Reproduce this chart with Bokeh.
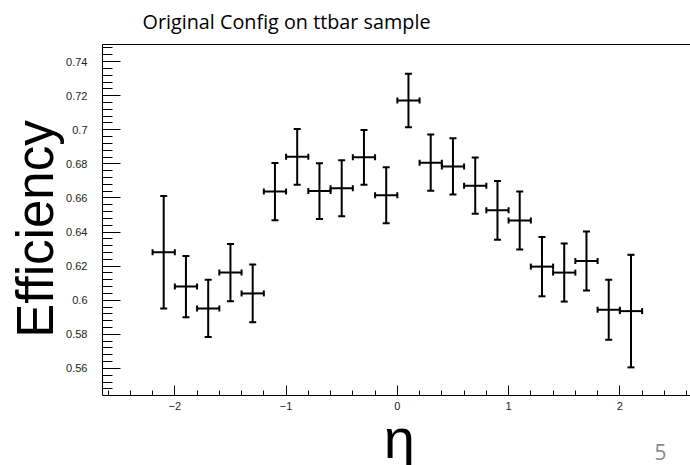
import math
from bokeh.plotting import figure
from bokeh.models import (ColumnDataSource, Whisker, TeeHead, Range1d, SingleIntervalTicker,
                          CustomJSTickFormatter, Label, LinearAxis)
from bokeh.embed import file_html
from bokeh.resources import INLINE

# ---------------- data ----------------
title_text = "Original Config on ttbar sample"
y_title = "Efficiency"
x_title = "η"
page_number = "5"

eta = [-2.1, -1.9, -1.7, -1.5, -1.3, -1.1, -0.9, -0.7, -0.5, -0.3, -0.1,
       0.1, 0.3, 0.5, 0.7, 0.9, 1.1, 1.3, 1.5, 1.7, 1.9, 2.1]
eta_half_width = [0.1] * 22
efficiency = [0.6282, 0.6080, 0.5952, 0.6162, 0.6040, 0.6637, 0.6841, 0.6640,
              0.6657, 0.6838, 0.6616, 0.7172, 0.6807, 0.6785, 0.6672, 0.6527,
              0.6467, 0.6197, 0.6162, 0.6230, 0.5944, 0.5936]
efficiency_err = [0.0330, 0.0180, 0.0168, 0.0168, 0.0169, 0.0168, 0.0164, 0.0164,
                  0.0164, 0.0161, 0.0164, 0.0157, 0.0165, 0.0165, 0.0165, 0.0173,
                  0.0170, 0.0174, 0.0170, 0.0173, 0.0176, 0.0330]

# axis extents (data) of the drawn ROOT frame
x_lo, x_hi = -2.65, 2.635
y_lo, y_hi = 0.5441, 0.75

src = ColumnDataSource(dict(
    eta=eta,
    eff=efficiency,
    lo=[e - d for e, d in zip(efficiency, efficiency_err)],
    hi=[e + d for e, d in zip(efficiency, efficiency_err)],
    xlo=[x - w for x, w in zip(eta, eta_half_width)],
    xhi=[x + w for x, w in zip(eta, eta_half_width)],
))

# ---------------- geometry ----------------
W, H = 690, 465
FL, FR, FT, FB = 102, 690, 44, 395   # where the ROOT frame sits on the page
dx = (x_hi - x_lo) / (FR - FL)
dy = (y_hi - y_lo) / (FB - FT)
xr = Range1d(x_lo - FL * dx, x_hi + (W - FR) * dx)
yr = Range1d(y_lo - (H - FB) * dy, y_hi + FT * dy)

p = figure(width=W, height=H, output_backend="svg", toolbar_location=None,
           x_range=xr, y_range=yr,
           min_border_left=0, min_border_right=0, min_border_top=0, min_border_bottom=0)
p.title.visible = False
p.outline_line_color = None
p.grid.visible = False
p.background_fill_color = "white"
p.border_fill_color = "white"

tick_font = "Liberation Sans"

xa = p.xaxis[0]
xa.fixed_location = y_lo
xa.bounds = (x_lo, x_hi)
xa.ticker = SingleIntervalTicker(interval=1, num_minor_ticks=5)
xa.formatter = CustomJSTickFormatter(code="return Math.round(tick).toString().replace('-', '\u2212');")
xa.major_tick_in = 10
xa.major_tick_out = 0
xa.minor_tick_in = 5
xa.minor_tick_out = 0
xa.major_label_standoff = 6
xa.major_label_text_font = tick_font
xa.major_label_text_font_size = "11px"
xa.major_label_text_color = "#222222"
xa.axis_line_color = "black"
xa.major_tick_line_color = "black"
xa.minor_tick_line_color = "black"

ya = p.yaxis[0]
ya.fixed_location = x_lo
ya.bounds = (y_lo, y_hi)
ya.ticker = SingleIntervalTicker(interval=0.02, num_minor_ticks=5)
ya.formatter = CustomJSTickFormatter(code="""
let s = tick.toFixed(2);
s = s.replace(/0+$/, '').replace(/\\.$/, '');
return s;
""")
ya.major_tick_in = 18
ya.major_tick_out = 0
ya.minor_tick_in = 10
ya.minor_tick_out = 0
ya.major_label_standoff = 15
ya.major_label_text_font = tick_font
ya.major_label_text_font_size = "11px"
ya.major_label_text_color = "#222222"
ya.axis_line_color = "black"
ya.major_tick_line_color = "black"
ya.minor_tick_line_color = "black"

# top frame border (an axis without ticks or labels)
top = LinearAxis(fixed_location=y_hi, bounds=(x_lo, x_hi),
                 major_tick_in=0, major_tick_out=0, minor_tick_in=0, minor_tick_out=0,
                 major_label_text_color=None, axis_line_color="black")
p.add_layout(top, "above")

# error bars
p.add_layout(Whisker(source=src, base="eta", lower="lo", upper="hi", dimension="height",
                     line_color="black", line_width=2,
                     upper_head=TeeHead(size=7, line_color="black", line_width=2),
                     lower_head=TeeHead(size=7, line_color="black", line_width=2)))
p.add_layout(Whisker(source=src, base="eff", lower="xlo", upper="xhi", dimension="width",
                     line_color="black", line_width=2,
                     upper_head=TeeHead(size=6, line_color="black", line_width=2),
                     lower_head=TeeHead(size=6, line_color="black", line_width=2)))

# texts (page pixel positions)
def add_text(x_img, y_img, txt, **kw):
    p.add_layout(Label(x=x_img, y=H - y_img, x_units="screen", y_units="screen",
                       text=txt, text_baseline="alphabetic", **kw))

add_text(286, 21, title_text, text_font="Open Sans", text_font_size="19.8px",
         text_color="black", text_align="center")
add_text(35, 228.5, y_title, angle=math.pi / 2, text_font="Liberation Sans",
         text_font_size="51px", text_color="black", text_align="center")
add_text(398.7, 438, x_title, text_font="Liberation Sans", text_font_size="56px",
         text_color="black", text_align="center")
add_text(654, 451, page_number, text_font="Open Sans", text_font_size="21px",
         text_color="#898989", text_align="left")

open("out.html", "w").write(file_html(p, INLINE))
